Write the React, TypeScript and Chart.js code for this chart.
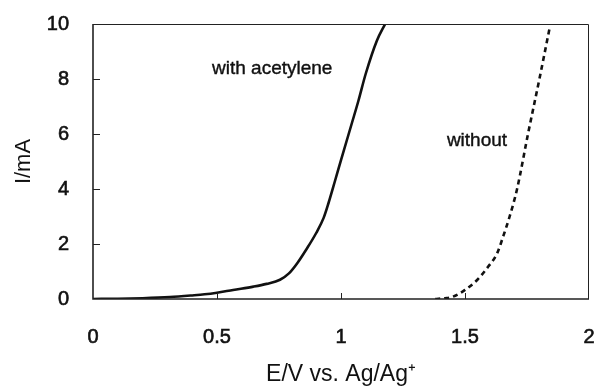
import React, { useEffect, useRef } from "react";
import { Chart, registerables } from "chart.js";

Chart.register(...registerables);

// ---- data ----
const acetyleneE = [0, 0.1, 0.2, 0.31, 0.4, 0.45, 0.5, 0.565, 0.647, 0.7, 0.754, 0.79, 0.825, 0.86, 0.9, 0.93, 0.95, 0.976, 1.0, 1.044, 1.07, 1.1, 1.145, 1.178];
const acetyleneI = [0, 0.01, 0.03, 0.07, 0.13, 0.17, 0.23, 0.33, 0.45, 0.55, 0.7, 0.93, 1.32, 1.8, 2.4, 2.95, 3.5, 4.3, 5.05, 6.4, 7.2, 8.2, 9.4, 10];

const withoutE = [1.38, 1.42, 1.45, 1.5, 1.55, 1.593, 1.63, 1.653, 1.68, 1.71, 1.754, 1.8, 1.84];
const withoutI = [0, 0.03, 0.08, 0.33, 0.7, 1.17, 1.67, 2.25, 3.0, 4.0, 6.0, 8.0, 9.8];

const xTicks = [0, 0.5, 1, 1.5, 2];
const yTicks = [0, 2, 4, 6, 8, 10];

const curveLabels = ["with acetylene", "without"];
const curveLabelX = [0.48, 1.427];
const curveLabelY = [8.36, 5.75];

const xTitle = "E/V vs. Ag/Ag\u207A";
const yTitle = "I/mA";

const FONT = "'Liberation Sans', Arial, Helvetica, sans-serif";
const INK = "#111111";

const framePlugin = {
  id: "frame",
  beforeDraw(chart: any) {
    const { ctx, width, height } = chart;
    ctx.save();
    ctx.fillStyle = "#ffffff";
    ctx.fillRect(0, 0, width, height);
    ctx.restore();
  },
  afterDraw(chart: any) {
    const { ctx, chartArea, scales } = chart;
    const { left, top, right, bottom } = chartArea;
    const xs = scales.x;
    const ys = scales.y;
    ctx.save();
    ctx.strokeStyle = "#222222";
    ctx.lineWidth = 1;
    ctx.beginPath();
    ctx.moveTo(left, top + 0.5);
    ctx.lineTo(right - 0.5, top + 0.5);
    ctx.lineTo(right - 0.5, bottom);
    ctx.stroke();
    ctx.lineWidth = 1.6;
    ctx.beginPath();
    ctx.moveTo(left, top);
    ctx.lineTo(left, bottom);
    ctx.lineTo(right, bottom);
    ctx.stroke();
    ctx.lineWidth = 1;
    ctx.beginPath();
    for (const v of yTicks) {
      if (v === yTicks[0] || v === yTicks[yTicks.length - 1]) continue;
      const py = Math.round(ys.getPixelForValue(v)) + 0.5;
      ctx.moveTo(left, py);
      ctx.lineTo(left + 7, py);
    }
    for (const v of xTicks) {
      if (v === xTicks[0] || v === xTicks[xTicks.length - 1]) continue;
      const px = Math.round(xs.getPixelForValue(v)) + 0.5;
      ctx.moveTo(px, bottom);
      ctx.lineTo(px, bottom - 6);
    }
    ctx.stroke();
    ctx.fillStyle = INK;
    ctx.strokeStyle = INK;
    ctx.lineWidth = 0.4;
    ctx.font = `19px ${FONT}`;
    ctx.textAlign = "left";
    ctx.textBaseline = "middle";
    curveLabels.forEach((t, i) => {
      const px = xs.getPixelForValue(curveLabelX[i]);
      const py = ys.getPixelForValue(curveLabelY[i]);
      ctx.fillText(t, px, py);
      ctx.strokeText(t, px, py);
    });
    ctx.restore();
  },
};

export default function App() {
  const ref = useRef<HTMLCanvasElement | null>(null);

  useEffect(() => {
    document.body.style.margin = "0";
    const canvas = ref.current;
    if (!canvas) return;
    const chart = new Chart(canvas, {
      type: "line",
      data: {
        datasets: [
          {
            label: "with acetylene",
            data: acetyleneE.map((e, i) => ({ x: e, y: acetyleneI[i] })),
            borderColor: INK,
            borderWidth: 2.6,
            pointRadius: 0,
            fill: false,
            cubicInterpolationMode: "monotone",
          },
          {
            label: "without",
            data: withoutE.map((e, i) => ({ x: e, y: withoutI[i] })),
            borderColor: INK,
            borderWidth: 2.6,
            borderDash: [5, 4],
            pointRadius: 0,
            fill: false,
            cubicInterpolationMode: "monotone",
          },
        ],
      },
      plugins: [framePlugin],
      options: {
        animation: false,
        responsive: false,
        devicePixelRatio: 1,
        layout: { padding: { top: 24, right: 5, left: 0, bottom: 0 } },
        plugins: {
          legend: { display: false },
          tooltip: { enabled: false },
          title: { display: false },
        },
        scales: {
          x: {
            type: "linear",
            min: 0,
            max: 2,
            afterBuildTicks: (s: any) => {
              s.ticks = xTicks.map((v) => ({ value: v }));
            },
            afterFit: (s: any) => {
              s.height = 88;
              s.paddingLeft = 0;
              s.paddingRight = 0;
            },
            grid: { display: false },
            border: { display: false },
            ticks: {
              color: INK,
              font: { family: FONT, size: 20 },
              padding: 18,
              maxRotation: 0,
              autoSkip: false,
              textStrokeColor: INK,
              textStrokeWidth: 0.6,
              callback: (v: any) => String(v),
            },
            title: {
              display: true,
              text: xTitle,
              color: INK,
              font: { family: FONT, size: 23, lineHeight: 1 },
              padding: { top: 1, bottom: 1 },
            },
          },
          y: {
            type: "linear",
            min: 0,
            max: 10,
            afterBuildTicks: (s: any) => {
              s.ticks = yTicks.map((v) => ({ value: v }));
            },
            afterFit: (s: any) => {
              s.width = 93;
              s.paddingTop = 0;
              s.paddingBottom = 0;
            },
            grid: { display: false },
            border: { display: false },
            ticks: {
              color: INK,
              font: { family: FONT, size: 20 },
              padding: 16,
              autoSkip: false,
              textStrokeColor: INK,
              textStrokeWidth: 0.6,
              callback: (v: any) => String(v),
            },
            title: {
              display: true,
              text: yTitle,
              color: INK,
              font: { family: FONT, size: 22, lineHeight: 1 },
              padding: { top: 13, bottom: 13 },
            },
          },
        },
      },
    });
    return () => chart.destroy();
  }, []);

  return (
    <div style={{ width: 594, height: 387, position: "relative" }}>
      <canvas ref={ref} width={594} height={387} style={{ display: "block" }} />
    </div>
  );
}
